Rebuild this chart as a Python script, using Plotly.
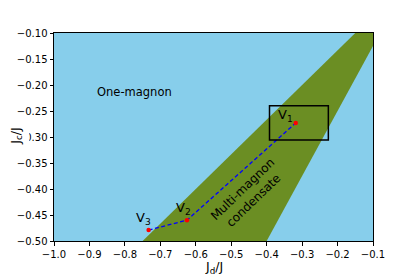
import plotly.graph_objects as go

# Data
band_jd = [-0.75, -0.40, -0.10, -0.10, -0.15]
band_jc = [-0.50, -0.50, -0.125, -0.10, -0.10]

path_jd = [-0.733, -0.625, -0.318]
path_jc = [-0.479, -0.460, -0.273]
point_labels = ["V<sub>3</sub>", "V<sub>2</sub>", "V<sub>1</sub>"]

box_jd = [-0.392, -0.226]
box_jc = [-0.306, -0.240]

x_ticks = [-1.0, -0.9, -0.8, -0.7, -0.6, -0.5, -0.4, -0.3, -0.2, -0.1]
y_ticks = [-0.50, -0.45, -0.40, -0.35, -0.30, -0.25, -0.20, -0.15, -0.10]

font = "DejaVu Sans"
minus = "\u2212"

fig = go.Figure()
fig.add_trace(go.Scatter(x=band_jd, y=band_jc, fill="toself", fillcolor="#6B8E23",
                         line=dict(width=0), mode="lines", hoverinfo="skip"))
fig.add_trace(go.Scatter(x=path_jd, y=path_jc, mode="lines",
                         line=dict(color="blue", width=1.3, dash="4px,2.5px")))
fig.add_trace(go.Scatter(x=path_jd, y=path_jc, mode="markers",
                         marker=dict(color="red", size=4.5)))

fig.add_shape(type="rect", x0=box_jd[0], x1=box_jd[1], y0=box_jc[0], y1=box_jc[1],
              line=dict(color="black", width=1.5))

offsets = [(-5, -12), (-3, -12), (-10, -7)]
for x, y, t, (dx, dy) in zip(path_jd, path_jc, point_labels, offsets):
    fig.add_annotation(x=x, y=y, text=t, showarrow=False, xshift=dx, yshift=-dy,
                       font=dict(family=font, size=13, color="black"))

fig.add_annotation(x=-0.773, y=-0.213, text="One-magnon", showarrow=False,
                   font=dict(family=font, size=11.5, color="black"))
fig.add_annotation(x=-0.452, y=-0.412, text="Multi-magnon<br>condensate", showarrow=False,
                   textangle=-44, font=dict(family=font, size=12, color="black"))

# axis labels
fig.add_annotation(xref="paper", yref="paper", x=-0.117, y=0.505, text="J<sub>c</sub>/J",
                   showarrow=False, textangle=-90, bgcolor="white", borderpad=4,
                   xanchor="center", font=dict(family=font, size=12.5, color="black"))
fig.add_annotation(xref="paper", yref="paper", x=0.5, y=-0.128, text="J<sub>d</sub>/J",
                   showarrow=False, xanchor="center", yanchor="middle",
                   font=dict(family=font, size=12.5, color="black"))

fmt_x = [f"{v:.1f}".replace("-", minus) for v in x_ticks]
fmt_y = [f"{v:.2f}".replace("-", minus) for v in y_ticks]

fig.update_layout(
    width=407, height=269,
    margin=dict(l=45.5, r=42, t=25, b=36, autoexpand=False),
    paper_bgcolor="white", plot_bgcolor="#87CEEB",
    showlegend=False,
    font=dict(family=font, size=10, color="black"),
    xaxis=dict(range=[-1.0, -0.1], tickvals=x_ticks, ticktext=fmt_x, showgrid=False,
               zeroline=False, showline=True, mirror=True, linecolor="black", linewidth=1,
               ticks="outside", ticklen=3.5, tickcolor="black", automargin=False),
    yaxis=dict(range=[-0.5, -0.1], tickvals=y_ticks, ticktext=fmt_y, showgrid=False,
               zeroline=False, showline=True, mirror=True, linecolor="black", linewidth=1,
               ticks="outside", ticklen=3.5, tickcolor="black", automargin=False),
)

fig.write_html("out.html")
